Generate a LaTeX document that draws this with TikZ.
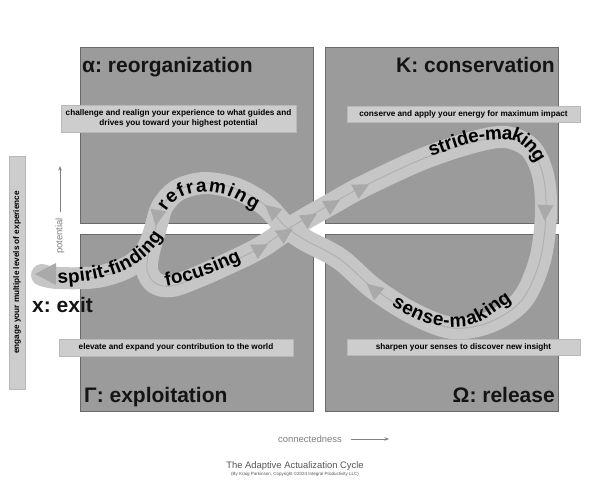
\documentclass[tikz,border=0pt]{standalone}
\usepackage{fontspec}
\setmainfont{Liberation Sans}
\frenchspacing
\usetikzlibrary{decorations.text, arrows.meta}
\definecolor{boxgray}{HTML}{9B9B9B}
\definecolor{boxedge}{HTML}{6A6A6A}
\definecolor{labelgray}{HTML}{CDCDCD}
\definecolor{labeledge}{HTML}{B8B8B8}
\definecolor{ribbon}{HTML}{C6C6C6}
\definecolor{ribbonline}{HTML}{B0B0B0}
\definecolor{arrowfill}{HTML}{A9A9A9}
\definecolor{axisgray}{HTML}{808080}
\definecolor{captiongray}{HTML}{555555}
\newcommand\ribbonfont{\fontsize{19}{19}\selectfont\bfseries}
\begin{document}
\begin{tikzpicture}[x=1pt,y=1pt,
  quad/.style={draw=boxedge, fill=boxgray, line width=0.8pt, minimum width=233pt, minimum height=176pt, inner sep=0},
  labelbox/.style={draw=labeledge, fill=labelgray, line width=0.5pt, inner sep=0,
     font=\fontsize{8.2}{10}\selectfont\bfseries, align=center},
  title/.style={font=\fontsize{21}{21}\selectfont\bfseries, inner sep=0, text=black!92},
  band/.style={draw=ribbon, line width=22pt},
  bandline/.style={draw=ribbonline, line width=1pt},
  axisarrow/.style={draw=axisgray, line width=0.6pt, -{Stealth[length=4.5pt,width=3.5pt]}},
  ribbontext/.style={decorate, decoration={text along path, text={|\ribbonfont|#1}, text align=center, raise=-5pt}},
  ribbontextfit/.style={decorate, decoration={text along path, text={|\ribbonfont|#1}, text align=fit to path, raise=-5pt}},
  ahead/.pic={\fill[arrowfill] (8,0) -- (-8,8) -- (-8,-8) -- cycle;}
]
\useasboundingbox (0,0) rectangle (600,-485);
\fill[white] (0,0) rectangle (600,-485);

% quadrants
\node[quad] (qTL) at (196.5,-135) {};
\node[quad] (qTR) at (442,-135) {};
\node[quad, minimum height=177pt] (qBL) at (196.5,-322.5) {};
\node[quad, minimum height=177pt] (qBR) at (442,-322.5) {};

% titles
\node[title, anchor=base west] (tAlpha) at (82,-72) {α: reorganization};
\node[title, anchor=base east] (tK) at (555,-72) {K: conservation};
\node[title, anchor=base west] (tR) at (84,-402) {Γ: exploitation};
\node[title, anchor=base east] (tOmega) at (555,-402) {Ω: release};

% ribbon
\draw[band] plot[smooth cycle, tension=0.55] coordinates {
 (172,-286) (200,-276) (240,-258) (263,-246) (288,-229) (310,-216) (333,-203) (362,-187)
 (420,-160) (470,-143) (505,-137) (530,-148) (543,-175) (546,-213) (540,-260) (522,-300)
 (490,-322) (452,-328) (412,-313) (373,-288) (340,-259) (305,-240) (285,-226) (265,-205)
 (237,-189) (205,-183) (178,-190) (162,-207) (155,-230) (149,-252) (147,-270) (155,-283)};
\draw[band, line cap=round] plot[smooth, tension=0.55] coordinates {
 (160,-212) (155,-230) (146,-251) (128,-267) (97,-277) (58,-278) (42,-275)};
\draw[bandline] plot[smooth cycle, tension=0.55] coordinates {
 (172,-286) (200,-276) (240,-258) (263,-246) (288,-229) (310,-216) (333,-203) (362,-187)
 (420,-160) (470,-143) (505,-137) (530,-148) (543,-175) (546,-213) (540,-260) (522,-300)
 (490,-322) (452,-328) (412,-313) (373,-288) (340,-259) (305,-240) (285,-226) (265,-205)
 (237,-189) (205,-183) (178,-190) (162,-207) (155,-230) (149,-252) (147,-270) (155,-283)};
\draw[bandline] plot[smooth, tension=0.55] coordinates {
 (155,-230) (146,-251) (128,-267) (97,-277) (58,-278)};

% arrowheads
\pic[rotate=-100] at (157,-218) {ahead};
\pic[rotate=140] at (271,-210) {ahead};
\pic[rotate=28] at (261,-248) {ahead};
\pic[rotate=33] at (286,-233) {ahead};
\pic[rotate=32] at (310,-218) {ahead};
\pic[rotate=30] at (333,-204) {ahead};
\pic[rotate=28] at (362,-188) {ahead};
\pic[rotate=-93] at (545,-213) {ahead};
\pic[rotate=140] at (373,-289) {ahead};
\fill[arrowfill] (35,-274) -- (56,-263) -- (56,-285) -- cycle;

% ribbon texts
\path[ribbontextfit={reframing}] (162,-209) to[out=58,in=180] (207,-187) to[out=0,in=152] (258,-206);
\path[ribbontext={focusing}] (156,-283) to[out=10,in=205] (248,-252);
\path[ribbontext={spirit-finding}] (50,-279) to[out=2,in=-115] (162,-226);
\path[ribbontext={stride-making}] (414,-158) to[out=20,in=180] (505,-135) to[out=0,in=110] (547,-176);
\path[ribbontext={sense-making}] (388,-298) to[out=-30,in=180] (455,-322) to[out=0,in=-150] (515,-293);

% label boxes
\node[labelbox, minimum width=235pt, minimum height=27pt] (lTL) at (178.5,-118.5)
  {challenge and realign your experience to what guides and\\drives you toward your highest potential};
\node[labelbox, minimum width=233pt, minimum height=16pt] (lTR) at (463.5,-114)
  {conserve and apply your energy for maximum impact};
\node[labelbox, minimum width=234pt, minimum height=17pt] (lBL) at (176,-347.5)
  {elevate and expand your contribution to the world};
\node[labelbox, minimum width=233pt, minimum height=16pt] (lBR) at (463.5,-347)
  {sharpen your senses to discover new insight};
\node[labelbox, rotate=90, minimum width=233pt, minimum height=16pt] (sideBar) at (17,-272.5)
  {engage your multiple levels of experience};

% exit
\node[title, anchor=base west] (tExit) at (32,-312) {x: exit};

% axes
\node[rotate=90, font=\fontsize{9.5}{9.5}\selectfont, text=axisgray, inner sep=0] (potLabel) at (60,-236) {potential};
\coordinate (potStart) at (60,-212);
\coordinate (potEnd) at (60,-166);
\draw[axisarrow] (potStart) -- (potEnd);
\node[font=\fontsize{9.5}{9.5}\selectfont, text=axisgray, inner sep=0] (conLabel) at (310,-439) {connectedness};
\coordinate (conStart) at (351,-439);
\coordinate (conEnd) at (389,-439);
\draw[axisarrow] (conStart) -- (conEnd);

% caption
\node[font=\fontsize{9.4}{9.4}\selectfont, text=captiongray, inner sep=0] (capTitle) at (295,-466) {The Adaptive Actualization Cycle};
\node[font=\fontsize{4.5}{4.5}\selectfont, text=captiongray, inner sep=0] (capSub) at (295,-474) {(By Kraig Parkinson, Copyright ©2024 Integral Productivity LLC)};
\end{tikzpicture}
\end{document}
